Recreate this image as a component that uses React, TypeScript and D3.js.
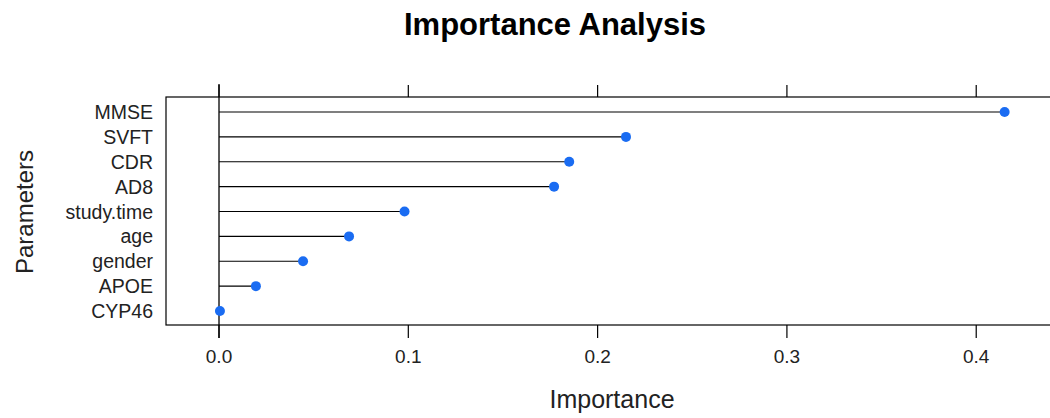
import React from "react";
import * as d3 from "d3";

const parameters = ["MMSE", "SVFT", "CDR", "AD8", "study.time", "age", "gender", "APOE", "CYP46"];
const importance = [0.415, 0.215, 0.185, 0.177, 0.098, 0.0687, 0.0444, 0.0195, 0.0005];
const xTicks = [0, 0.1, 0.2, 0.3, 0.4];

const W = 1050, H = 418;
const panel = { left: 166, right: 1058, top: 97, bottom: 325 };
const font = "'Liberation Sans', Arial, Helvetica, sans-serif";

export default function App() {
  const x = d3.scaleLinear().domain([-0.028, 0.4432]).range([panel.left, panel.right]);
  const y = d3.scalePoint<string>().domain(parameters).range([112, 311]);
  return (
    <svg width={W} height={H} style={{ position: "absolute", left: 0, top: 0, background: "#fff" }} fontFamily={font}>
      <text x={555} y={35} textAnchor="middle" fontSize={31} fontWeight="bold" fill="#000">Importance Analysis</text>
      <rect x={panel.left} y={panel.top} width={panel.right - panel.left} height={panel.bottom - panel.top} fill="none" stroke="#000" strokeWidth={1.2} />
      <line x1={x(0)} x2={x(0)} y1={84} y2={338} stroke="#000" strokeWidth={1.3} />
      {xTicks.map(t => (
        <g key={t}>
          <line x1={x(t)} x2={x(t)} y1={panel.top - 12} y2={panel.top} stroke="#000" strokeWidth={1.2} />
          <line x1={x(t)} x2={x(t)} y1={panel.bottom} y2={panel.bottom + 13} stroke="#000" strokeWidth={1.2} />
          <text x={x(t)} y={363} textAnchor="middle" fontSize={19} fill="#222">{d3.format(".1f")(t)}</text>
        </g>
      ))}
      {parameters.map((p, i) => (
        <g key={p}>
          <line x1={x(0)} x2={x(importance[i])} y1={y(p)} y2={y(p)} stroke="#000" strokeWidth={1.2} />
          <circle cx={x(importance[i])} cy={y(p)} r={5} fill="#1a6cf2" />
          <text x={153} y={(y(p) as number) + 7} textAnchor="end" fontSize={19.5} fill="#222">{p}</text>
        </g>
      ))}
      <text x={612} y={408} textAnchor="middle" fontSize={25} fill="#222">Importance</text>
      <text transform={`translate(33,212) rotate(-90)`} textAnchor="middle" fontSize={24} fill="#222">Parameters</text>
    </svg>
  );
}
